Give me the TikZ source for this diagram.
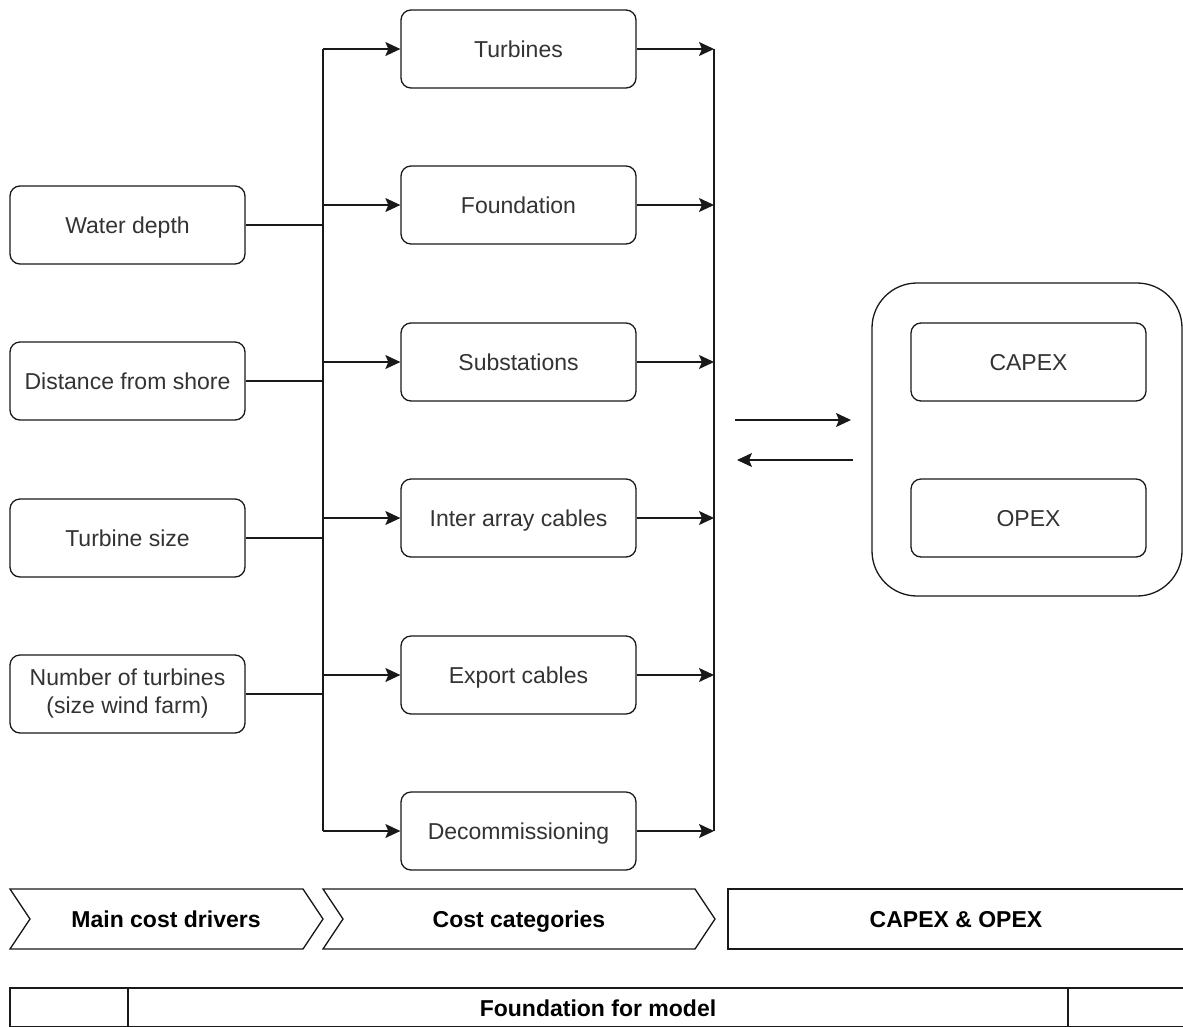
\documentclass[tikz,border=0pt]{standalone}
\usepackage{fontspec}
\setmainfont{Liberation Sans}
\usetikzlibrary{arrows.meta}
\begin{document}
\begin{tikzpicture}[x=1pt,y=-1pt,
  line width=1.3pt,
  color=black!90,
  box/.style={draw=black!90, rounded corners=10pt, minimum width=235pt, minimum height=78pt,
    inner sep=0pt, align=center, text=black!80, font=\fontsize{23}{28}\selectfont,
    text height=17pt, text depth=0pt},
  lbl/.style={text=black, font=\fontsize{23}{28}\selectfont\bfseries,
    text height=17pt, text depth=0pt},
  arr/.style={-{Stealth[length=15pt,width=14pt,inset=3pt]}}]
\clip (0,0) rectangle (1183,1026);
\fill[white] (0,0) rectangle (1183,1026);

% main cost drivers
\node[box] (wd) at (127.5,225) {Water depth};
\node[box] (ds) at (127.5,381) {Distance from shore};
\node[box] (ts) at (127.5,538) {Turbine size};
\node[box, text height=, text depth=] (nt) at (127.5,694) {Number of turbines\\(size wind farm)};

% cost categories
\node[box] (tu) at (518.5,49)  {Turbines};
\node[box] (fo) at (518.5,205) {Foundation};
\node[box] (su) at (518.5,362) {Substations};
\node[box] (ia) at (518.5,518) {Inter array cables};
\node[box] (ec) at (518.5,675) {Export cables};
\node[box] (de) at (518.5,831) {Decommissioning};

% CAPEX & OPEX group
\node[box, minimum width=310pt, minimum height=313pt, rounded corners=45pt] (grp) at (1027,439.5) {};
\node[box] (cx) at (1028.5,362) {CAPEX};
\node[box] (ox) at (1028.5,518) {OPEX};

% collecting buses
\coordinate (lbT) at (323,49);
\coordinate (lbB) at (323,831);
\coordinate (rbT) at (714,49);
\coordinate (rbB) at (714,831);
\draw (lbT) -- (lbB);
\draw (rbT) -- (rbB);

\foreach \n in {wd,ds,ts,nt} \draw (\n.east) -- (\n.east -| lbT);
\foreach \n in {tu,fo,su,ia,ec,de} {
  \draw[arr] (\n.west -| lbT) -- (\n.west);
  \draw[arr] (\n.east) -- (\n.east -| rbT);
}

% exchange with CAPEX & OPEX
\coordinate (a1s) at (735,420);
\coordinate (a1e) at (851,420);
\coordinate (a2s) at (853,460);
\coordinate (a2e) at (737,460);
\draw[arr] (a1s) -- (a1e);
\draw[arr] (a2s) -- (a2e);

% phase bar
\draw (10,889) -- (303,889) -- (323,919) -- (303,949) -- (10,949) -- (30,919) -- cycle;
\draw (323,889) -- (695,889) -- (715,919) -- (695,949) -- (323,949) -- (343,919) -- cycle;
\draw (728,889) rectangle (1185,949);
\node[lbl] (p1) at (166,919) {Main cost drivers};
\node[lbl] (p2) at (519,919) {Cost categories};
\node[lbl] (p3) at (956,919) {CAPEX \& OPEX};

% base row
\draw (10,988) rectangle (1190,1027);
\draw (128,988) -- (128,1027);
\draw (1068,988) -- (1068,1027);
\node[lbl] (p4) at (598,1008) {Foundation for model};
\end{tikzpicture}
\end{document}
